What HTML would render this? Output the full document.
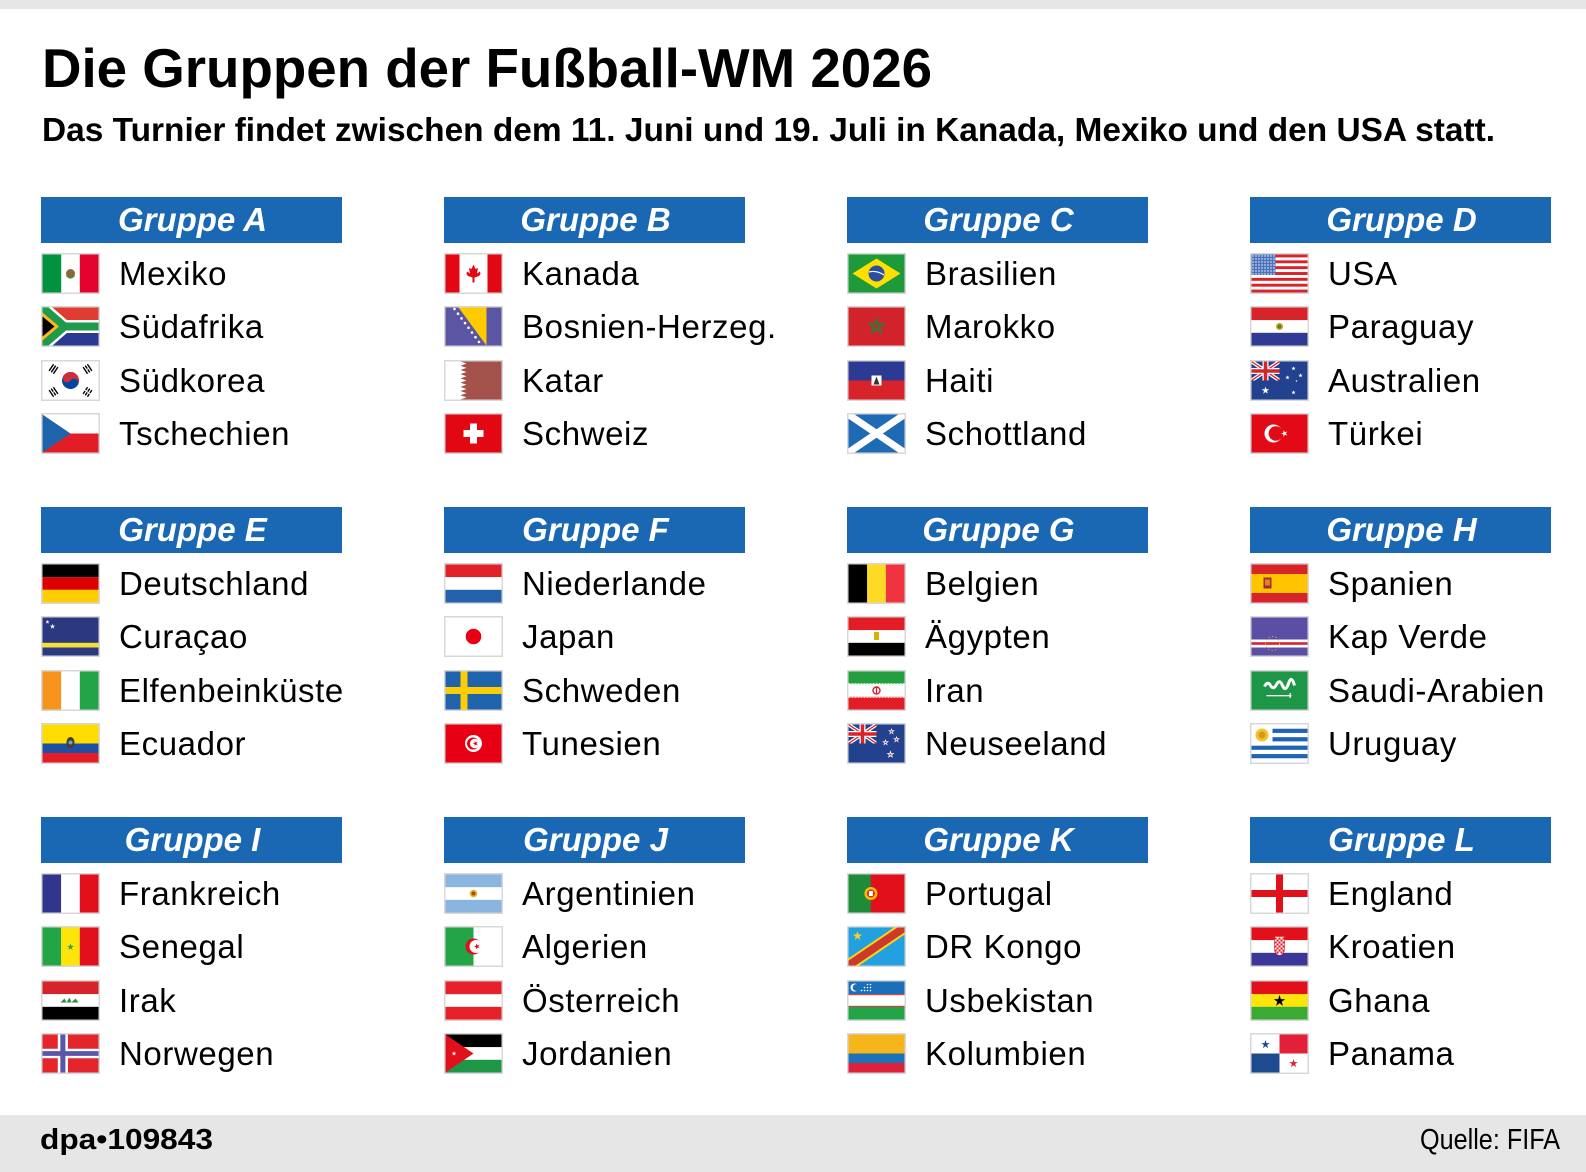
<!DOCTYPE html>
<html><head><meta charset="utf-8"><style>
html,body{margin:0;padding:0;background:#fff;}
svg{display:block;}
text{font-family:"Liberation Sans",sans-serif;}
.n{font-size:33px;letter-spacing:0.6px;fill:#000;}
.h{font-size:33px;font-weight:bold;font-style:italic;fill:#fff;}
</style></head><body>
<svg width="1586" height="1172" viewBox="0 0 1586 1172" xmlns="http://www.w3.org/2000/svg">
<defs>
<polygon id="st" points="0,-1 0.2245,-0.309 0.951,-0.309 0.363,0.118 0.588,0.809 0,0.382 -0.588,0.809 -0.363,0.118 -0.951,-0.309 -0.2245,-0.309"/>
<clipPath id="cj"><rect width="28" height="19"/></clipPath>
<clipPath id="cf"><rect width="56" height="38"/></clipPath>
<g id="uj" clip-path="url(#cj)"><rect width="28" height="19" fill="#22428f"/><path d="M0,0L28,19M28,0L0,19" stroke="#fff" stroke-width="3.8"/><path d="M0,0L28,19M28,0L0,19" stroke="#d8232a" stroke-width="1.3"/><path d="M14,0V19M0,9.5H28" stroke="#fff" stroke-width="6"/><path d="M14,0V19M0,9.5H28" stroke="#d8232a" stroke-width="3.5"/></g>
<pattern id="usst" width="3" height="3" patternUnits="userSpaceOnUse"><rect width="3" height="3" fill="#4a72bd"/><circle cx="1.5" cy="1.5" r="0.7" fill="#fff"/></pattern>
<g id="fr"><rect width="59" height="41" fill="#d8d8d8"/></g>
</defs>

<rect width="1586" height="9" fill="#e6e6e6"/>
<rect y="1115" width="1586" height="57" fill="#e6e6e6"/>

<text x="42" y="87" font-size="55" font-weight="bold" textLength="890" lengthAdjust="spacingAndGlyphs">Die Gruppen der Fußball-WM 2026</text>
<text x="42" y="141" font-size="33" font-weight="bold" textLength="1453" lengthAdjust="spacingAndGlyphs">Das Turnier findet zwischen dem 11. Juni und 19. Juli in Kanada, Mexiko und den USA statt.</text>

<!-- headers -->
<g fill="#1a68b3">
<rect x="41" y="197" width="301" height="46"/><rect x="444" y="197" width="301" height="46"/><rect x="847" y="197" width="301" height="46"/><rect x="1250" y="197" width="301" height="46"/>
<rect x="41" y="507" width="301" height="46"/><rect x="444" y="507" width="301" height="46"/><rect x="847" y="507" width="301" height="46"/><rect x="1250" y="507" width="301" height="46"/>
<rect x="41" y="817" width="301" height="46"/><rect x="444" y="817" width="301" height="46"/><rect x="847" y="817" width="301" height="46"/><rect x="1250" y="817" width="301" height="46"/>
</g>
<g class="h" text-anchor="middle">
<text class="h" x="192.5" y="231">Gruppe A</text><text class="h" x="595.5" y="231">Gruppe B</text><text class="h" x="998.5" y="231">Gruppe C</text><text class="h" x="1401.5" y="231">Gruppe D</text>
<text class="h" x="192.5" y="541">Gruppe E</text><text class="h" x="595.5" y="541">Gruppe F</text><text class="h" x="998.5" y="541">Gruppe G</text><text class="h" x="1401.5" y="541">Gruppe H</text>
<text class="h" x="192.5" y="851">Gruppe I</text><text class="h" x="595.5" y="851">Gruppe J</text><text class="h" x="998.5" y="851">Gruppe K</text><text class="h" x="1401.5" y="851">Gruppe L</text>
</g>

<!-- names -->
<g class="n">
<text class="n" x="119" y="285">Mexiko</text><text class="n" x="119" y="338">Südafrika</text><text class="n" x="119" y="392">Südkorea</text><text class="n" x="119" y="445">Tschechien</text>
<text class="n" x="522" y="285">Kanada</text><text class="n" x="522" y="338">Bosnien-Herzeg.</text><text class="n" x="522" y="392">Katar</text><text class="n" x="522" y="445">Schweiz</text>
<text class="n" x="925" y="285">Brasilien</text><text class="n" x="925" y="338">Marokko</text><text class="n" x="925" y="392">Haiti</text><text class="n" x="925" y="445">Schottland</text>
<text class="n" x="1328" y="285">USA</text><text class="n" x="1328" y="338">Paraguay</text><text class="n" x="1328" y="392">Australien</text><text class="n" x="1328" y="445">Türkei</text>

<text class="n" x="119" y="595">Deutschland</text><text class="n" x="119" y="648">Curaçao</text><text class="n" x="119" y="702">Elfenbeinküste</text><text class="n" x="119" y="755">Ecuador</text>
<text class="n" x="522" y="595">Niederlande</text><text class="n" x="522" y="648">Japan</text><text class="n" x="522" y="702">Schweden</text><text class="n" x="522" y="755">Tunesien</text>
<text class="n" x="925" y="595">Belgien</text><text class="n" x="925" y="648">Ägypten</text><text class="n" x="925" y="702">Iran</text><text class="n" x="925" y="755">Neuseeland</text>
<text class="n" x="1328" y="595">Spanien</text><text class="n" x="1328" y="648">Kap Verde</text><text class="n" x="1328" y="702">Saudi-Arabien</text><text class="n" x="1328" y="755">Uruguay</text>

<text class="n" x="119" y="905">Frankreich</text><text class="n" x="119" y="958">Senegal</text><text class="n" x="119" y="1012">Irak</text><text class="n" x="119" y="1065">Norwegen</text>
<text class="n" x="522" y="905">Argentinien</text><text class="n" x="522" y="958">Algerien</text><text class="n" x="522" y="1012">Österreich</text><text class="n" x="522" y="1065">Jordanien</text>
<text class="n" x="925" y="905">Portugal</text><text class="n" x="925" y="958">DR Kongo</text><text class="n" x="925" y="1012">Usbekistan</text><text class="n" x="925" y="1065">Kolumbien</text>
<text class="n" x="1328" y="905">England</text><text class="n" x="1328" y="958">Kroatien</text><text class="n" x="1328" y="1012">Ghana</text><text class="n" x="1328" y="1065">Panama</text>
</g>

<!-- ===== FLAGS ===== -->
<!-- Mexico -->
<g transform="translate(41,253)"><use href="#fr"/><g transform="translate(1.5,1.5)" clip-path="url(#cf)">
<rect width="56" height="38" fill="#fff"/><rect width="18.7" height="38" fill="#00923f"/><rect x="37.3" width="18.7" height="38" fill="#e4032e"/><circle cx="28" cy="19" r="4.5" fill="#8a6a3a"/><path d="M24,21 Q28,26 32,21" stroke="#3a8a3a" stroke-width="1.2" fill="none"/></g></g>
<!-- South Africa -->
<g transform="translate(41,306)"><use href="#fr"/><g transform="translate(1.5,1.5)" clip-path="url(#cf)">
<rect width="56" height="19" fill="#e03c31"/><rect y="19" width="56" height="19" fill="#2b3990"/>
<path d="M0,0L22,19L56,19M0,38L22,19" stroke="#fff" stroke-width="13" fill="none"/>
<path d="M0,0L22,19L56,19M0,38L22,19" stroke="#1f9a4a" stroke-width="8" fill="none"/>
<polygon points="0,5 16.5,19 0,33" fill="#ffb81c"/><polygon points="0,9 12,19 0,29" fill="#000"/></g></g>
<!-- South Korea -->
<g transform="translate(41,360)"><use href="#fr"/><g transform="translate(1.5,1.5)" clip-path="url(#cf)">
<rect width="56" height="38" fill="#fff"/>
<g transform="rotate(34 28 19)"><circle cx="28" cy="19" r="8.5" fill="#0047a0"/><path d="M19.5,19A8.5,8.5 0 0 1 36.5,19Z" fill="#cd2e3a"/><circle cx="23.75" cy="19" r="4.25" fill="#cd2e3a"/><circle cx="32.25" cy="19" r="4.25" fill="#0047a0"/></g>
<g fill="#000">
<g transform="translate(11,7.5) rotate(-56)"><rect x="-4" y="-3.3" width="8" height="1.4"/><rect x="-4" y="-0.7" width="8" height="1.4"/><rect x="-4" y="1.9" width="8" height="1.4"/></g>
<g transform="translate(45,7.5) rotate(56)"><rect x="-4" y="-3.3" width="8" height="1.4"/><rect x="-4" y="-0.7" width="3.5" height="1.4"/><rect x="0.5" y="-0.7" width="3.5" height="1.4"/><rect x="-4" y="1.9" width="8" height="1.4"/></g>
<g transform="translate(11,30.5) rotate(56)"><rect x="-4" y="-3.3" width="8" height="1.4"/><rect x="-4" y="-0.7" width="3.5" height="1.4"/><rect x="0.5" y="-0.7" width="3.5" height="1.4"/><rect x="-4" y="1.9" width="8" height="1.4"/></g>
<g transform="translate(45,30.5) rotate(-56)"><rect x="-4" y="-3.3" width="3.5" height="1.4"/><rect x="0.5" y="-3.3" width="3.5" height="1.4"/><rect x="-4" y="-0.7" width="3.5" height="1.4"/><rect x="0.5" y="-0.7" width="3.5" height="1.4"/><rect x="-4" y="1.9" width="3.5" height="1.4"/><rect x="0.5" y="1.9" width="3.5" height="1.4"/></g>
</g></g></g>
<!-- Czech -->
<g transform="translate(41,413)"><use href="#fr"/><g transform="translate(1.5,1.5)" clip-path="url(#cf)">
<rect width="56" height="19" fill="#fff"/><rect y="19" width="56" height="19" fill="#e21d25"/><polygon points="0,0 28,19 0,38" fill="#1f63ad"/></g></g>

<!-- Canada -->
<g transform="translate(444,253)"><use href="#fr"/><g transform="translate(1.5,1.5)" clip-path="url(#cf)">
<rect width="56" height="38" fill="#fff"/><rect width="14" height="38" fill="#e30613"/><rect x="42" width="14" height="38" fill="#e30613"/>
<polygon points="28,10 30,14.5 32.5,13.5 31.5,19 34.5,17 35,19.5 33.5,21.5 29,23 29,28 27,28 27,23 22.5,21.5 21,19.5 21.5,17 24.5,19 23.5,13.5 26,14.5" fill="#e30613"/></g></g>
<!-- Bosnia -->
<g transform="translate(444,306)"><use href="#fr"/><g transform="translate(1.5,1.5)" clip-path="url(#cf)">
<rect width="56" height="38" fill="#5b56a3"/><polygon points="13,0 41,0 41,38" fill="#fecb00"/>
<g fill="#fff"><circle cx="9" cy="1.5" r="1.3"/><circle cx="12.5" cy="6.2" r="1.3"/><circle cx="16" cy="10.9" r="1.3"/><circle cx="19.5" cy="15.6" r="1.3"/><circle cx="23" cy="20.3" r="1.3"/><circle cx="26.5" cy="25" r="1.3"/><circle cx="30" cy="29.7" r="1.3"/><circle cx="33.5" cy="34.4" r="1.3"/></g></g></g>
<!-- Qatar -->
<g transform="translate(444,360)"><use href="#fr"/><g transform="translate(1.5,1.5)" clip-path="url(#cf)">
<rect width="56" height="38" fill="#a3514b"/>
<polygon points="0,0 15,0 21,2.11 15,4.22 21,6.33 15,8.44 21,10.56 15,12.67 21,14.78 15,16.89 21,19 15,21.11 21,23.22 15,25.33 21,27.44 15,29.56 21,31.67 15,33.78 21,35.89 15,38 0,38" fill="#fff"/></g></g>
<!-- Switzerland -->
<g transform="translate(444,413)"><use href="#fr"/><g transform="translate(1.5,1.5)" clip-path="url(#cf)">
<rect width="56" height="38" fill="#e30613"/><rect x="24.5" y="9" width="7" height="20" fill="#fff"/><rect x="18" y="15.5" width="20" height="7" fill="#fff"/></g></g>

<!-- Brazil -->
<g transform="translate(847,253)"><use href="#fr"/><g transform="translate(1.5,1.5)" clip-path="url(#cf)">
<rect width="56" height="38" fill="#1e9a3b"/><polygon points="28,4 52,19 28,34 4,19" fill="#fedf00"/><circle cx="28" cy="19" r="8" fill="#2a4fa0"/><path d="M20.5,17.5 Q28,15.5 35.5,20.5" stroke="#fff" stroke-width="1.2" fill="none"/></g></g>
<!-- Morocco -->
<g transform="translate(847,306)"><use href="#fr"/><g transform="translate(1.5,1.5)" clip-path="url(#cf)">
<rect width="56" height="38" fill="#d2232a"/><path d="M28,11L32.7,25.47L20.39,16.53L35.61,16.53L23.3,25.47Z" stroke="#2f7a3a" stroke-width="1.5" fill="none"/></g></g>
<!-- Haiti -->
<g transform="translate(847,360)"><use href="#fr"/><g transform="translate(1.5,1.5)" clip-path="url(#cf)">
<rect width="56" height="19" fill="#2d3a94"/><rect y="19" width="56" height="19" fill="#d8232a"/><rect x="23" y="14" width="10" height="10" fill="#fff"/><polygon points="28,15 31,23 25,23" fill="#333"/></g></g>
<!-- Scotland -->
<g transform="translate(847,413)"><use href="#fr"/><g transform="translate(1.5,1.5)" clip-path="url(#cf)">
<rect width="56" height="38" fill="#1f6ab5"/><path d="M0,0L56,38M56,0L0,38" stroke="#fff" stroke-width="7"/></g></g>

<!-- USA -->
<g transform="translate(1250,253)"><use href="#fr"/><g transform="translate(1.5,1.5)" clip-path="url(#cf)">
<rect width="56" height="38" fill="#fff"/>
<g fill="#d8232a"><rect y="0" width="56" height="2.92"/><rect y="5.85" width="56" height="2.92"/><rect y="11.7" width="56" height="2.92"/><rect y="17.54" width="56" height="2.92"/><rect y="23.38" width="56" height="2.92"/><rect y="29.23" width="56" height="2.92"/><rect y="35.08" width="56" height="2.92"/></g>
<rect width="24" height="20.46" fill="url(#usst)"/></g></g>
<!-- Paraguay -->
<g transform="translate(1250,306)"><use href="#fr"/><g transform="translate(1.5,1.5)" clip-path="url(#cf)">
<rect width="56" height="12.67" fill="#d8232a"/><rect y="12.67" width="56" height="12.67" fill="#fff"/><rect y="25.33" width="56" height="12.67" fill="#2e3a94"/><circle cx="28" cy="19" r="3.6" fill="#e0a020"/><circle cx="28" cy="19" r="2" fill="#3a8a3a"/></g></g>
<!-- Australia -->
<g transform="translate(1250,360)"><use href="#fr"/><g transform="translate(1.5,1.5)" clip-path="url(#cf)">
<rect width="56" height="38" fill="#22428f"/><use href="#uj"/>
<g fill="#fff"><use href="#st" transform="translate(14,29) scale(4)"/><use href="#st" transform="translate(42,31) scale(2.3)"/><use href="#st" transform="translate(36,16) scale(2.3)"/><use href="#st" transform="translate(42,7) scale(2.3)"/><use href="#st" transform="translate(49,14) scale(2.3)"/><use href="#st" transform="translate(45,19.5) scale(1.2)"/></g></g></g>
<!-- Turkey -->
<g transform="translate(1250,413)"><use href="#fr"/><g transform="translate(1.5,1.5)" clip-path="url(#cf)">
<rect width="56" height="38" fill="#e30a17"/><circle cx="22" cy="19" r="9" fill="#fff"/><circle cx="24.3" cy="19" r="7.2" fill="#e30a17"/><use href="#st" transform="translate(33,19) rotate(-18) scale(3.5)" fill="#fff"/></g></g>

<!-- Germany -->
<g transform="translate(41,563)"><use href="#fr"/><g transform="translate(1.5,1.5)" clip-path="url(#cf)">
<rect width="56" height="12.67" fill="#000"/><rect y="12.67" width="56" height="12.67" fill="#dd0000"/><rect y="25.33" width="56" height="12.67" fill="#ffce00"/></g></g>
<!-- Curacao -->
<g transform="translate(41,616)"><use href="#fr"/><g transform="translate(1.5,1.5)" clip-path="url(#cf)">
<rect width="56" height="38" fill="#2b3a80"/><rect y="25.3" width="56" height="4.7" fill="#f5e13a"/><g fill="#fff"><use href="#st" transform="translate(5,4.5) scale(2.2)"/><use href="#st" transform="translate(10,9) scale(2.8)"/></g></g></g>
<!-- Ivory Coast -->
<g transform="translate(41,670)"><use href="#fr"/><g transform="translate(1.5,1.5)" clip-path="url(#cf)">
<rect width="18.67" height="38" fill="#f7941d"/><rect x="18.67" width="18.67" height="38" fill="#fff"/><rect x="37.33" width="18.67" height="38" fill="#22a447"/></g></g>
<!-- Ecuador -->
<g transform="translate(41,723)"><use href="#fr"/><g transform="translate(1.5,1.5)" clip-path="url(#cf)">
<rect width="56" height="19" fill="#ffdd00"/><rect y="19" width="56" height="9.5" fill="#1f4fa3"/><rect y="28.5" width="56" height="9.5" fill="#e21d25"/><ellipse cx="28" cy="18" rx="4" ry="5.5" fill="#4a3a2a"/><circle cx="28" cy="18" r="2" fill="#6fa0d0"/></g></g>

<!-- Netherlands -->
<g transform="translate(444,563)"><use href="#fr"/><g transform="translate(1.5,1.5)" clip-path="url(#cf)">
<rect width="56" height="12.67" fill="#e2202a"/><rect y="12.67" width="56" height="12.67" fill="#fff"/><rect y="25.33" width="56" height="12.67" fill="#2461ad"/></g></g>
<!-- Japan -->
<g transform="translate(444,616)"><use href="#fr"/><g transform="translate(1.5,1.5)" clip-path="url(#cf)">
<rect width="56" height="38" fill="#fff"/><circle cx="28" cy="19" r="7.8" fill="#e60012"/></g></g>
<!-- Sweden -->
<g transform="translate(444,670)"><use href="#fr"/><g transform="translate(1.5,1.5)" clip-path="url(#cf)">
<rect width="56" height="38" fill="#1e64ad"/><rect x="15" width="7" height="38" fill="#fecc02"/><rect y="15.5" width="56" height="7" fill="#fecc02"/></g></g>
<!-- Tunisia -->
<g transform="translate(444,723)"><use href="#fr"/><g transform="translate(1.5,1.5)" clip-path="url(#cf)">
<rect width="56" height="38" fill="#e70013"/><circle cx="28" cy="19" r="8.5" fill="#fff"/><circle cx="27.5" cy="19" r="6" fill="#e70013"/><circle cx="29.3" cy="19" r="4.8" fill="#fff"/><use href="#st" transform="translate(30,19) rotate(-18) scale(2.8)" fill="#e70013"/></g></g>

<!-- Belgium -->
<g transform="translate(847,563)"><use href="#fr"/><g transform="translate(1.5,1.5)" clip-path="url(#cf)">
<rect width="18.67" height="38" fill="#000"/><rect x="18.67" width="18.67" height="38" fill="#fdda24"/><rect x="37.33" width="18.67" height="38" fill="#ef3340"/></g></g>
<!-- Egypt -->
<g transform="translate(847,616)"><use href="#fr"/><g transform="translate(1.5,1.5)" clip-path="url(#cf)">
<rect width="56" height="12.67" fill="#e21d25"/><rect y="12.67" width="56" height="12.67" fill="#fff"/><rect y="25.33" width="56" height="12.67" fill="#000"/><rect x="25.5" y="14.5" width="5" height="8" fill="#d9b000"/></g></g>
<!-- Iran -->
<g transform="translate(847,670)"><use href="#fr"/><g transform="translate(1.5,1.5)" clip-path="url(#cf)">
<rect width="56" height="12.67" fill="#239f40"/><rect y="12.67" width="56" height="12.67" fill="#fff"/><rect y="25.33" width="56" height="12.67" fill="#e21d25"/>
<path d="M0,12.2H56M0,25.8H56" stroke="#fff" stroke-width="0.8" stroke-dasharray="2 1"/><circle cx="28" cy="19" r="3.5" fill="none" stroke="#e21d25" stroke-width="1.4"/><rect x="27.4" y="15" width="1.2" height="7" fill="#e21d25"/></g></g>
<!-- New Zealand -->
<g transform="translate(847,723)"><use href="#fr"/><g transform="translate(1.5,1.5)" clip-path="url(#cf)">
<rect width="56" height="38" fill="#22428f"/><use href="#uj"/>
<g fill="#d8232a" stroke="#fff" stroke-width="0.25"><use href="#st" transform="translate(42,30) scale(3)"/><use href="#st" transform="translate(37,18) scale(2.6)"/><use href="#st" transform="translate(48,15) scale(2.6)"/><use href="#st" transform="translate(43,7) scale(2.6)"/></g></g></g>

<!-- Spain -->
<g transform="translate(1250,563)"><use href="#fr"/><g transform="translate(1.5,1.5)" clip-path="url(#cf)">
<rect width="56" height="38" fill="#d8232a"/><rect y="9.5" width="56" height="19" fill="#ffc400"/><rect x="12" y="13" width="8" height="11" fill="#a0302a"/><rect x="13.5" y="15" width="5" height="6" fill="#e08030"/></g></g>
<!-- Cape Verde -->
<g transform="translate(1250,616)"><use href="#fr"/><g transform="translate(1.5,1.5)" clip-path="url(#cf)">
<rect width="56" height="38" fill="#5b4fa5"/><rect y="22" width="56" height="8" fill="#fff"/><rect y="24.7" width="56" height="2.6" fill="#d8232a"/>
<circle cx="21" cy="26" r="7" fill="none" stroke="#f0c020" stroke-width="1" stroke-dasharray="1 2.6"/></g></g>
<!-- Saudi Arabia -->
<g transform="translate(1250,670)"><use href="#fr"/><g transform="translate(1.5,1.5)" clip-path="url(#cf)">
<rect width="56" height="38" fill="#1e9648"/><path d="M13,15 Q16,9 19,14 T25,13 T31,14 T37,12 T43,14" stroke="#fff" stroke-width="3" fill="none"/><rect x="15" y="23.5" width="25" height="1.3" fill="#fff"/><rect x="38" y="21.5" width="1.3" height="5" fill="#fff"/></g></g>
<!-- Uruguay -->
<g transform="translate(1250,723)"><use href="#fr"/><g transform="translate(1.5,1.5)" clip-path="url(#cf)">
<rect width="56" height="38" fill="#fff"/>
<g fill="#1f64b4"><rect y="4.22" width="56" height="4.22"/><rect y="12.67" width="56" height="4.22"/><rect y="21.11" width="56" height="4.22"/><rect y="29.56" width="56" height="4.22"/></g>
<rect width="21" height="21.11" fill="#fff"/><circle cx="10.5" cy="10.5" r="6.5" fill="#f5c22b"/><circle cx="10.5" cy="10.5" r="3.5" fill="#d49a1a"/></g></g>

<!-- France -->
<g transform="translate(41,873)"><use href="#fr"/><g transform="translate(1.5,1.5)" clip-path="url(#cf)">
<rect width="18.67" height="38" fill="#31358c"/><rect x="18.67" width="18.67" height="38" fill="#fff"/><rect x="37.33" width="18.67" height="38" fill="#e2101b"/></g></g>
<!-- Senegal -->
<g transform="translate(41,926)"><use href="#fr"/><g transform="translate(1.5,1.5)" clip-path="url(#cf)">
<rect width="18.67" height="38" fill="#22a447"/><rect x="18.67" width="18.67" height="38" fill="#fde50a"/><rect x="37.33" width="18.67" height="38" fill="#e2101b"/><use href="#st" transform="translate(28,19.5) scale(3.6)" fill="#22a447"/></g></g>
<!-- Iraq -->
<g transform="translate(41,980)"><use href="#fr"/><g transform="translate(1.5,1.5)" clip-path="url(#cf)">
<rect width="56" height="12.67" fill="#d8232a"/><rect y="12.67" width="56" height="12.67" fill="#fff"/><rect y="25.33" width="56" height="12.67" fill="#000"/><path d="M18,21 L22,17 L24,21 L27,16 L29,21 L33,17 L36,21 Z" fill="#2f8a3a"/></g></g>
<!-- Norway -->
<g transform="translate(41,1033)"><use href="#fr"/><g transform="translate(1.5,1.5)" clip-path="url(#cf)">
<rect width="56" height="38" fill="#e4262c"/><rect x="15.27" width="10.18" height="38" fill="#fff"/><rect y="14.25" width="56" height="9.5" fill="#fff"/><rect x="17.82" width="5.09" height="38" fill="#5a57a8"/><rect y="16.63" width="56" height="4.75" fill="#5a57a8"/></g></g>

<!-- Argentina -->
<g transform="translate(444,873)"><use href="#fr"/><g transform="translate(1.5,1.5)" clip-path="url(#cf)">
<rect width="56" height="38" fill="#8ab5e0"/><rect y="12.67" width="56" height="12.67" fill="#fff"/><circle cx="28" cy="19" r="3.8" fill="#f0b020"/><circle cx="28" cy="19" r="2" fill="#8a5a20"/></g></g>
<!-- Algeria -->
<g transform="translate(444,926)"><use href="#fr"/><g transform="translate(1.5,1.5)" clip-path="url(#cf)">
<rect width="56" height="38" fill="#fff"/><rect width="28" height="38" fill="#22a447"/><circle cx="28" cy="19" r="8" fill="#e2101b"/><circle cx="30.5" cy="19" r="6.5" fill="#fff"/><use href="#st" transform="translate(31.5,19) rotate(-18) scale(3.2)" fill="#e2101b"/></g></g>
<!-- Austria -->
<g transform="translate(444,980)"><use href="#fr"/><g transform="translate(1.5,1.5)" clip-path="url(#cf)">
<rect width="56" height="38" fill="#e8202a"/><rect y="12.67" width="56" height="12.67" fill="#fff"/></g></g>
<!-- Jordan -->
<g transform="translate(444,1033)"><use href="#fr"/><g transform="translate(1.5,1.5)" clip-path="url(#cf)">
<rect width="56" height="12.67" fill="#000"/><rect y="12.67" width="56" height="12.67" fill="#fff"/><rect y="25.33" width="56" height="12.67" fill="#1e9648"/><polygon points="0,0 28,19 0,38" fill="#e2101b"/><use href="#st" transform="translate(8.5,19) scale(2.5)" fill="#fff"/></g></g>

<!-- Portugal -->
<g transform="translate(847,873)"><use href="#fr"/><g transform="translate(1.5,1.5)" clip-path="url(#cf)">
<rect width="56" height="38" fill="#e2101b"/><rect width="22.4" height="38" fill="#1e8a3a"/><circle cx="22.4" cy="19" r="6.5" fill="#f5c000"/><circle cx="22.4" cy="19" r="4" fill="#d8232a"/><rect x="20.4" y="16.5" width="4" height="5" fill="#fff"/></g></g>
<!-- DR Congo -->
<g transform="translate(847,926)"><use href="#fr"/><g transform="translate(1.5,1.5)" clip-path="url(#cf)">
<rect width="56" height="38" fill="#22a0e0"/><path d="M0,38L56,0" stroke="#f7d618" stroke-width="12"/><path d="M0,38L56,0" stroke="#ce3a2a" stroke-width="8"/><use href="#st" transform="translate(9,8.5) scale(5)" fill="#f7d618"/></g></g>
<!-- Uzbekistan -->
<g transform="translate(847,980)"><use href="#fr"/><g transform="translate(1.5,1.5)" clip-path="url(#cf)">
<rect width="56" height="12.67" fill="#1d6eb8"/><rect y="12.67" width="56" height="12.67" fill="#fff"/><rect y="25.33" width="56" height="12.67" fill="#22a447"/><rect y="12.67" width="56" height="1" fill="#d8232a"/><rect y="24.33" width="56" height="1" fill="#d8232a"/>
<circle cx="6" cy="6" r="4" fill="#fff"/><circle cx="7.6" cy="6" r="3.4" fill="#1d6eb8"/><g fill="#fff"><circle cx="13" cy="9" r="0.8"/><circle cx="16" cy="9" r="0.8"/><circle cx="19" cy="9" r="0.8"/><circle cx="22" cy="9" r="0.8"/><circle cx="16" cy="6" r="0.8"/><circle cx="19" cy="6" r="0.8"/><circle cx="22" cy="6" r="0.8"/><circle cx="19" cy="3" r="0.8"/><circle cx="22" cy="3" r="0.8"/></g></g></g>
<!-- Colombia -->
<g transform="translate(847,1033)"><use href="#fr"/><g transform="translate(1.5,1.5)" clip-path="url(#cf)">
<rect width="56" height="19" fill="#f6b51b"/><rect y="19" width="56" height="9.5" fill="#1b72b9"/><rect y="28.5" width="56" height="9.5" fill="#e01f3d"/></g></g>

<!-- England -->
<g transform="translate(1250,873)"><use href="#fr"/><g transform="translate(1.5,1.5)" clip-path="url(#cf)">
<rect width="56" height="38" fill="#fff"/><rect x="24.5" width="7" height="38" fill="#e2101b"/><rect y="15.5" width="56" height="7" fill="#e2101b"/></g></g>
<!-- Croatia -->
<g transform="translate(1250,926)"><use href="#fr"/><g transform="translate(1.5,1.5)" clip-path="url(#cf)">
<rect width="56" height="12.67" fill="#e2101b"/><rect y="12.67" width="56" height="12.67" fill="#fff"/><rect y="25.33" width="56" height="12.67" fill="#3b3799"/>
<path d="M23,9 H33 V21 Q33,27 28,28 Q23,27 23,21 Z" fill="#fff" stroke="#e2101b" stroke-width="0.6"/>
<g fill="#e2101b"><rect x="23" y="10" width="2" height="2"/><rect x="27" y="10" width="2" height="2"/><rect x="31" y="10" width="2" height="2"/><rect x="25" y="12" width="2" height="2"/><rect x="29" y="12" width="2" height="2"/><rect x="23" y="14" width="2" height="2"/><rect x="27" y="14" width="2" height="2"/><rect x="31" y="14" width="2" height="2"/><rect x="25" y="16" width="2" height="2"/><rect x="29" y="16" width="2" height="2"/><rect x="23" y="18" width="2" height="2"/><rect x="27" y="18" width="2" height="2"/><rect x="31" y="18" width="2" height="2"/><rect x="25" y="20" width="2" height="2"/><rect x="29" y="20" width="2" height="2"/><rect x="23" y="22" width="2" height="2"/><rect x="27" y="22" width="2" height="2"/><rect x="31" y="22" width="2" height="2"/><rect x="25" y="24" width="2" height="2"/><rect x="29" y="24" width="2" height="2"/></g></g></g>
<!-- Ghana -->
<g transform="translate(1250,980)"><use href="#fr"/><g transform="translate(1.5,1.5)" clip-path="url(#cf)">
<rect width="56" height="12.67" fill="#e2101b"/><rect y="12.67" width="56" height="12.67" fill="#fde50a"/><rect y="25.33" width="56" height="12.67" fill="#3aaa35"/><use href="#st" transform="translate(28,19.5) scale(6)" fill="#000"/></g></g>
<!-- Panama -->
<g transform="translate(1250,1033)"><use href="#fr"/><g transform="translate(1.5,1.5)" clip-path="url(#cf)">
<rect width="56" height="38" fill="#fff"/><rect x="28" width="28" height="19" fill="#e2203a"/><rect y="19" width="28" height="19" fill="#1d4b8f"/><use href="#st" transform="translate(14,10) scale(4.5)" fill="#1d4b8f"/><use href="#st" transform="translate(42,29) scale(4.5)" fill="#e2203a"/></g></g>

<!-- footer -->
<text x="40" y="1149" font-size="29" font-weight="bold" textLength="173" lengthAdjust="spacingAndGlyphs">dpa•109843</text>
<text x="1420" y="1149" font-size="29" textLength="140" lengthAdjust="spacingAndGlyphs">Quelle: FIFA</text>
</svg>
</body></html>
